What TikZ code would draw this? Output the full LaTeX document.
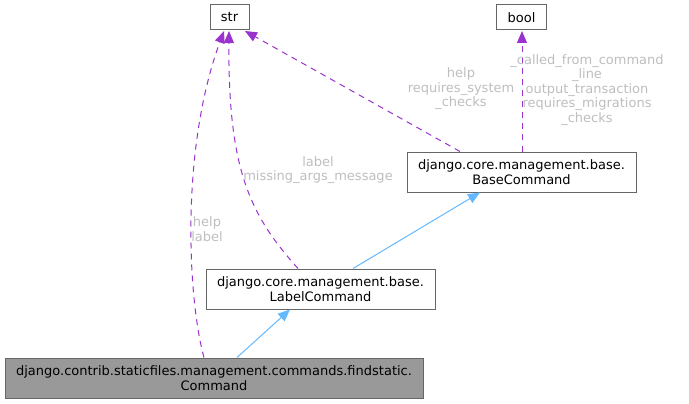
\documentclass[tikz,border=0pt]{standalone}
\usepackage{fontspec}
\setmainfont{DejaVu Sans}
\usetikzlibrary{arrows.meta}
\definecolor{edgepurple}{RGB}{154,50,205}
\definecolor{edgeblue}{RGB}{99,184,255}
\definecolor{boxgray}{RGB}{102,102,102}
\definecolor{fillgray}{RGB}{153,153,153}
\definecolor{lblgray}{RGB}{190,190,190}
\begin{document}
\begin{tikzpicture}[x=1pt,y=-1pt,
  box/.style={draw=boxgray,line width=1pt,inner sep=0pt,align=center,font=\fontsize{13}{15}\selectfont},
  usage/.style={draw=edgepurple,dash pattern=on 6pt off 5pt,line width=1pt,-{Triangle[length=12pt,width=10pt]}},
  inherit/.style={draw=edgeblue,line width=1pt,-{Triangle[length=12pt,width=10pt]}},
  lbl/.style={text=lblgray,align=center,inner sep=0pt,font=\fontsize{13}{14.5}\selectfont}]
\useasboundingbox (0,0) rectangle (689,404);
\node[box,minimum width=39pt,minimum height=25pt] (str) at (229.5,17.5) {str};
\node[box,minimum width=50pt,minimum height=25pt] (bool) at (521.5,17.5) {bool};
\node[box,minimum width=229pt,minimum height=40pt] (base) at (521.5,172) {django.core.management.base.\\BaseCommand};
\node[box,minimum width=229pt,minimum height=40pt] (label) at (320.5,289) {django.core.management.base.\\LabelCommand};
\node[box,fill=fillgray,minimum width=418pt,minimum height=40pt] (find) at (214,378) {django.contrib.staticfiles.management.commands.findstatic.\\Command};
% inheritance
\draw[inherit] (find.north -| 237,0) -- (label.south -| 290,0);
\draw[inherit] (label.north -| 353,0) -- (base.south -| 480,0);
% usage
\coordinate (strA) at (224,31);
\coordinate (strB) at (229,31);
\coordinate (strC) at (245,31);
\coordinate (boolA) at (522,31);
\draw[usage] (find.north -| 204,0) .. controls (188,300) and (180,150) .. (strA);
\draw[usage] (label.north -| 298,0) .. controls (250,215) and (228,170) .. (strB);
\draw[usage] (base.north -| 460,0) -- (strC);
\draw[usage] (base.north -| 522,0) -- (boolA);
% labels
\node[lbl] (l1) at (207,229) {help\\label};
\node[lbl] (l2) at (318,170) {label\\missing\_args\_message};
\node[lbl] (l3) at (461,89) {help\\requires\_system\\\_checks};
\node[lbl] (l4) at (587,90) {\_called\_from\_command\\\_line\\output\_transaction\\requires\_migrations\\\_checks};
\end{tikzpicture}
\end{document}
